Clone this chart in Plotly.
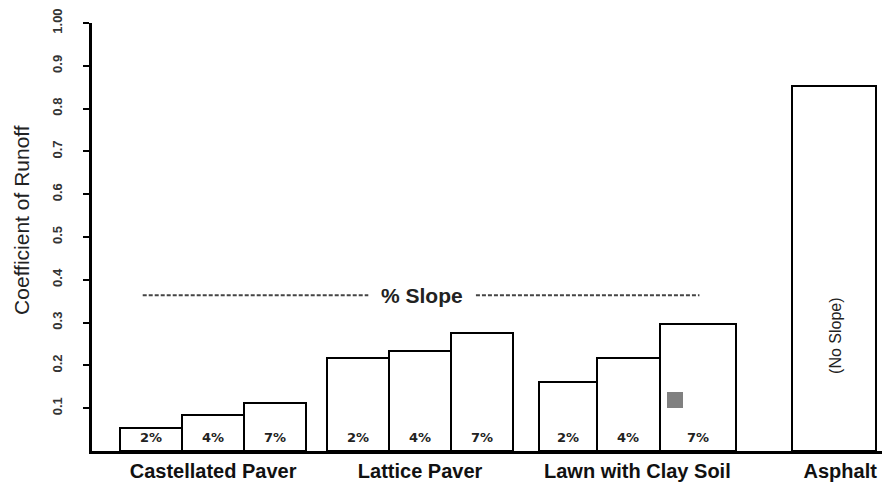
import plotly.graph_objects as go

# ---- data ----
groups = ["Castellated Paver", "Lattice Paver", "Lawn with Clay Soil", "Asphalt"]
slopes = ["2%", "4%", "7%"]
castellated = [0.054, 0.084, 0.112]
lattice = [0.218, 0.234, 0.276]
lawn = [0.161, 0.217, 0.297]
asphalt = [0.853]
y_ticks = [0.1, 0.2, 0.3, 0.4, 0.5, 0.6, 0.7, 0.8, 0.9, 1.0]
y_ticktext = ["0.1", "0.2", "0.3", "0.4", "0.5", "0.6", "0.7", "0.8", "0.9", "1.00"]

# ---- layout styling (positions relative to group index) ----
offsets = [[-0.30, 0.0, 0.30], [-0.30, 0.0, 0.30], [-0.285, 0.007, 0.343], [0.0]]
widths = [[0.30, 0.30, 0.30], [0.30, 0.30, 0.30], [0.28, 0.304, 0.367], [0.41]]
label_shift = [0.0, 0.0, 0.05, 0.03]

series = [castellated, lattice, lawn, asphalt]

fig = go.Figure()
xs, ys, ws = [], [], []
for g, vals in enumerate(series):
    for k, v in enumerate(vals):
        xs.append(g + offsets[g][k])
        ys.append(v)
        ws.append(widths[g][k])

fig.add_trace(go.Bar(
    x=xs, y=ys, width=ws,
    marker=dict(color="white", line=dict(color="black", width=2)),
    hoverinfo="skip", showlegend=False,
))

annotations = []
# slope labels inside bars
for g, vals in enumerate(series[:3]):
    for k, v in enumerate(vals):
        annotations.append(dict(
            x=g + offsets[g][k], y=0, xref="x", yref="y",
            text="<b>" + slopes[k] + "</b>", showarrow=False,
            yanchor="middle", yshift=14,
            font=dict(family="DejaVu Sans", size=13, color="#222"),
        ))
# asphalt note
annotations.append(dict(
    x=3 + offsets[3][0] + 0.01, y=0.269, xref="x", yref="y",
    text="(No Slope)", textangle=-90, showarrow=False,
    font=dict(family="Liberation Sans", size=16, color="#222"),
))
# % Slope label
annotations.append(dict(
    x=1.01, y=0.364, xref="x", yref="y",
    text="<b>% Slope</b>", showarrow=False,
    font=dict(family="Liberation Sans", size=21, color="#222"),
))
# y title
annotations.append(dict(
    x=-70 / 790, y=0.54, xref="paper", yref="paper",
    xanchor="center", yanchor="middle",
    text="Coefficient of Runoff", textangle=-90, showarrow=False,
    font=dict(family="Liberation Sans", size=21, color="#222"),
))

shapes = [
    dict(type="line", xref="x", yref="y", x0=-0.34, x1=0.75, y0=0.364, y1=0.364,
         line=dict(color="#444", width=2, dash="4px,2px")),
    dict(type="line", xref="x", yref="y", x0=1.27, x1=2.35, y0=0.364, y1=0.364,
         line=dict(color="#444", width=2, dash="4px,2px")),
    # small gray square artifact
    dict(type="rect", xref="paper", yref="paper",
         x0=(667 - 92) / 790, x1=(683 - 92) / 790,
         y0=(451 - 408) / 428, y1=(451 - 392) / 428,
         fillcolor="#808080", line=dict(width=0)),
]

fig.update_layout(
    width=882, height=485,
    margin=dict(l=92, r=0, t=23, b=34),
    paper_bgcolor="white", plot_bgcolor="white",
    annotations=annotations, shapes=shapes,
    bargap=0,
    xaxis=dict(
        range=[-0.585, 3.232],
        tickvals=[g + label_shift[g] for g in range(len(groups))],
        ticktext=["<b>" + t + "</b>" for t in groups],
        tickfont=dict(family="Liberation Sans", size=20, color="#111"),
        showgrid=False, zeroline=False,
        showline=True, linecolor="black", linewidth=3,
        ticks="", ticklabelstandoff=0,
    ),
    yaxis=dict(
        range=[0, 1.0],
        tickvals=y_ticks,
        ticktext=["<b>" + t + "</b>" for t in y_ticktext],
        tickangle=-90,
        tickfont=dict(family="Liberation Sans", size=13, color="#333"),
        showgrid=False, zeroline=False,
        showline=True, linecolor="black", linewidth=3,
        ticks="outside", ticklen=6, tickwidth=2, tickcolor="black",
        ticklabelstandoff=16,
    ),
)

fig.write_html("out.html", config={"displayModeBar": False},
               post_script="document.body.style.margin='0';")
